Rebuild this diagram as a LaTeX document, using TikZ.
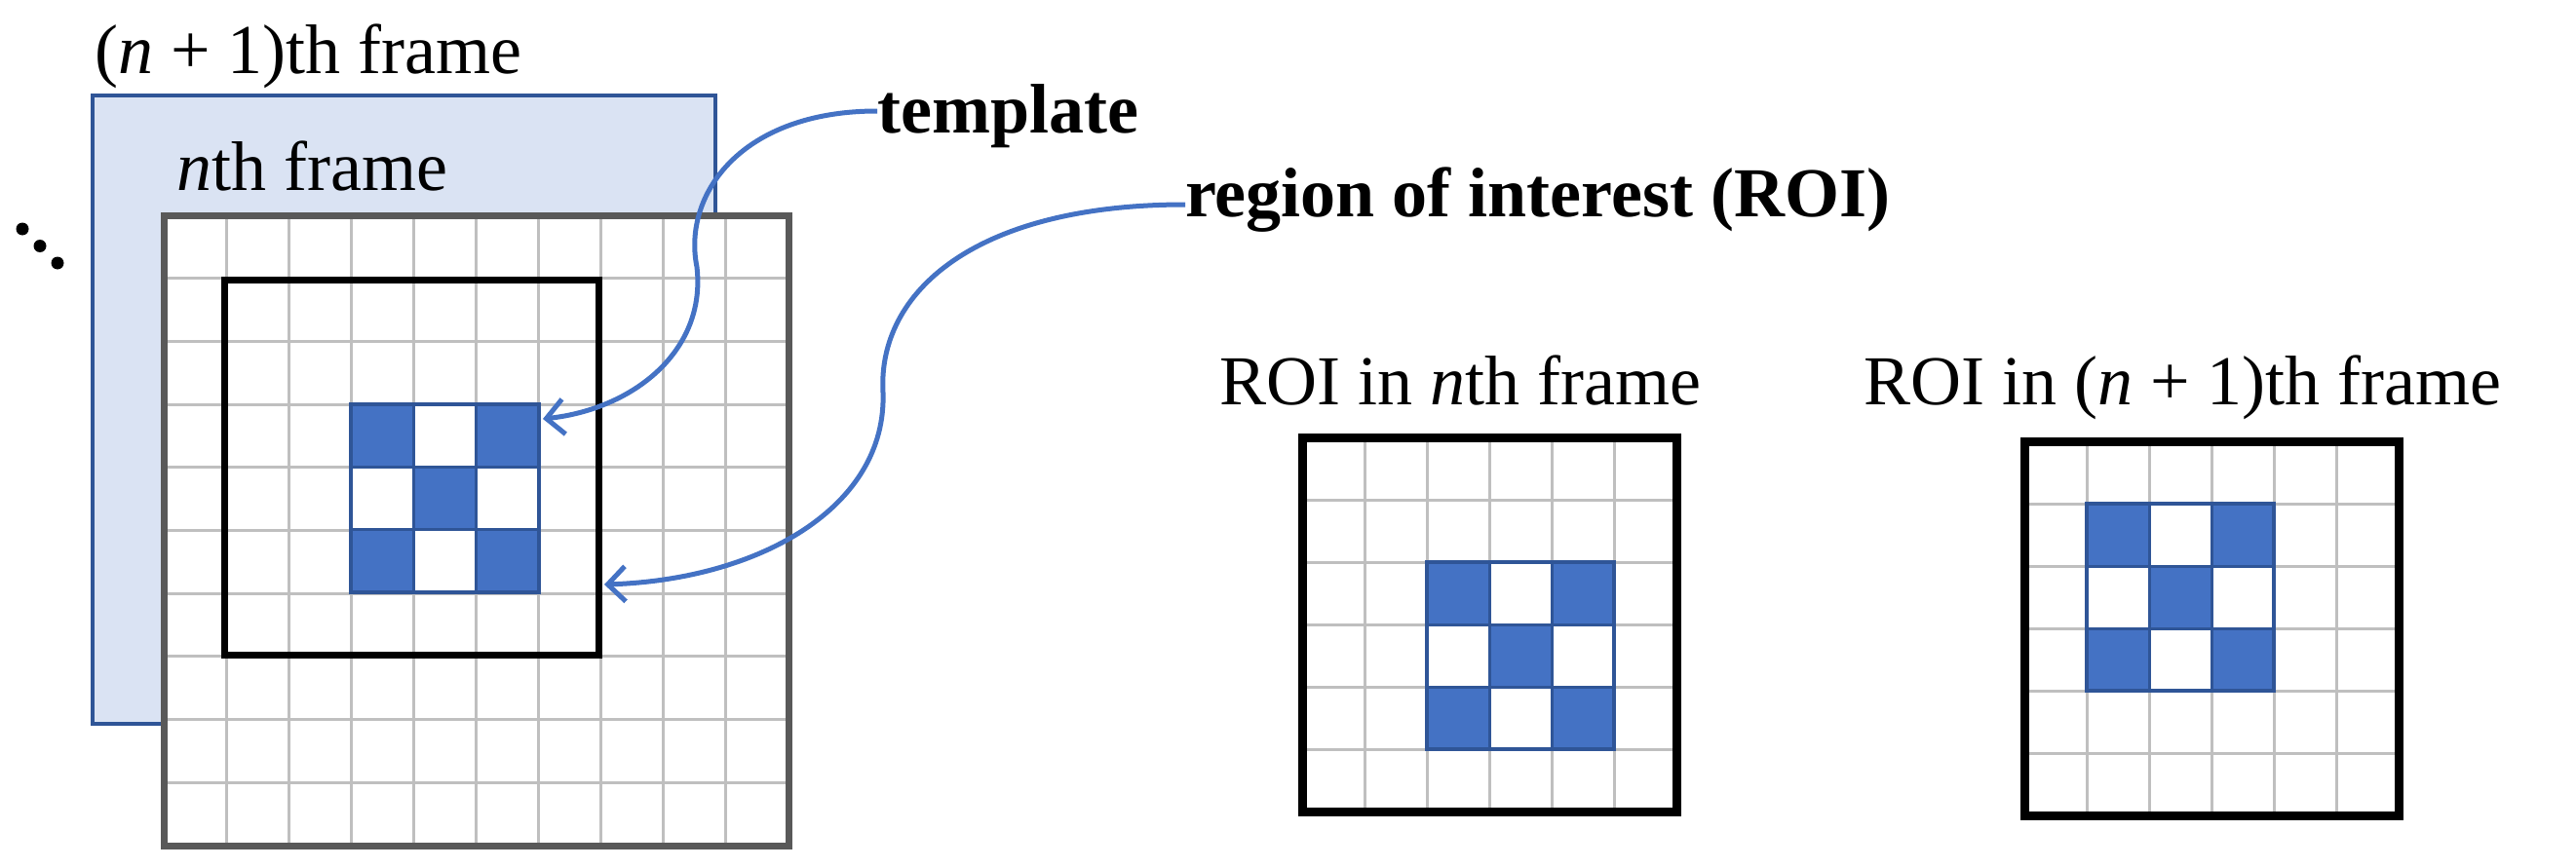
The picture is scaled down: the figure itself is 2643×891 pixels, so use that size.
\documentclass[tikz,border=0pt]{standalone}
\usepackage{fontspec}
\setmainfont{Liberation Serif}
\usetikzlibrary{arrows.meta}
\definecolor{tblue}{HTML}{4472C4}
\definecolor{dblue}{HTML}{2F5597}
\definecolor{lblue}{HTML}{DAE3F3}
\definecolor{gridc}{HTML}{BFBFBF}
\definecolor{framec}{HTML}{595959}
\tikzset{
  lbl/.style={anchor=base west, inner sep=0pt, font=\fontsize{72}{80}\selectfont},
  blbl/.style={lbl, font=\fontsize{72}{80}\selectfont\bfseries},
  gridl/.style={gridc, line width=3pt},
  bcell/.style={fill=tblue, draw=dblue, line width=3pt},
  wcell/.style={fill=white, draw=dblue, line width=3pt},
  arr/.style={tblue, line width=5pt, -{Straight Barb[length=18pt,width=36pt,line width=5pt]}},
}
\newcommand\tmplblock[3]{% x0 y0 cell
  \foreach \i/\j/\c in {0/0/bcell,1/0/wcell,2/0/bcell,0/1/wcell,1/1/bcell,2/1/wcell,0/2/bcell,1/2/wcell,2/2/bcell}
    \path[\c] ({#1+\i*#3},{#2+\j*#3}) rectangle ++(#3,#3);
}
\begin{document}
\begin{tikzpicture}[x=1pt,y=-1pt]
\useasboundingbox (0,0) rectangle (2643,891);
% back frame
\draw[fill=lblue, draw=dblue, line width=4pt] (95,98) rectangle (734,743);
\node[lbl] (f1) at (97,75) {(\textit{n} + 1)th frame};
\node[lbl] (f0) at (181,195) {\textit{n}th frame};
\foreach \k in {0,1,2} \fill (23+18*\k,235+17.5*\k) circle (6.5pt);
% front frame
\fill[white] (168,221) rectangle (809,868);
\foreach \k in {1,...,9} {
  \draw[gridl] ({168+\k*64.1},221) -- ++(0,647);
  \draw[gridl] (168,{221+\k*64.7}) -- ++(641,0);
}
\draw[framec, line width=7pt] (168,221) rectangle (809,868);
\draw[black, line width=7pt] (230,287) rectangle (614,672);
\tmplblock{360.3}{415}{64.3}
\draw[dblue, line width=4pt] (360.3,415) rectangle ++(192.9,192.9);
% labels
\node[blbl] (tpl) at (900,136) {template};
\node[blbl] (roi) at (1216,222) {region of interest (ROI)};
\coordinate (tplTip) at (557,430);
\coordinate (roiTip) at (620,600);
\draw[arr] (tpl.west |- 0,114) .. controls (760,114) and (700,200) .. (715,274)
  .. controls (725,360) and (650,420) .. (tplTip);
\draw[arr] (roi.west |- 0,210) .. controls (1000,210) and (900,300) .. (906,403)
  .. controls (910,520) and (780,595) .. (roiTip);
% right ROI boxes
\node[lbl] (l1) at (1251,415) {ROI in \textit{n}th frame};
\node[lbl] (l2) at (1912,415) {ROI in (\textit{n} + 1)th frame};
\foreach \x/\y/\tx/\ty [count=\n] in {1336/449/2/2, 2077/453/1/1} {
  \fill[white] (\x,\y) rectangle ++(384,384);
  \foreach \k in {1,...,5} {
    \draw[gridl] ({\x+\k*64},\y) -- ++(0,384);
    \draw[gridl] (\x,{\y+\k*64}) -- ++(384,0);
  }
  \tmplblock{\x+\tx*64}{\y+\ty*64}{64}
  \draw[dblue, line width=4pt] ({\x+\tx*64},{\y+\ty*64}) rectangle ++(192,192);
  \draw[black, line width=9pt] (\x,\y) rectangle ++(384,384);
}
\end{tikzpicture}
\end{document}
